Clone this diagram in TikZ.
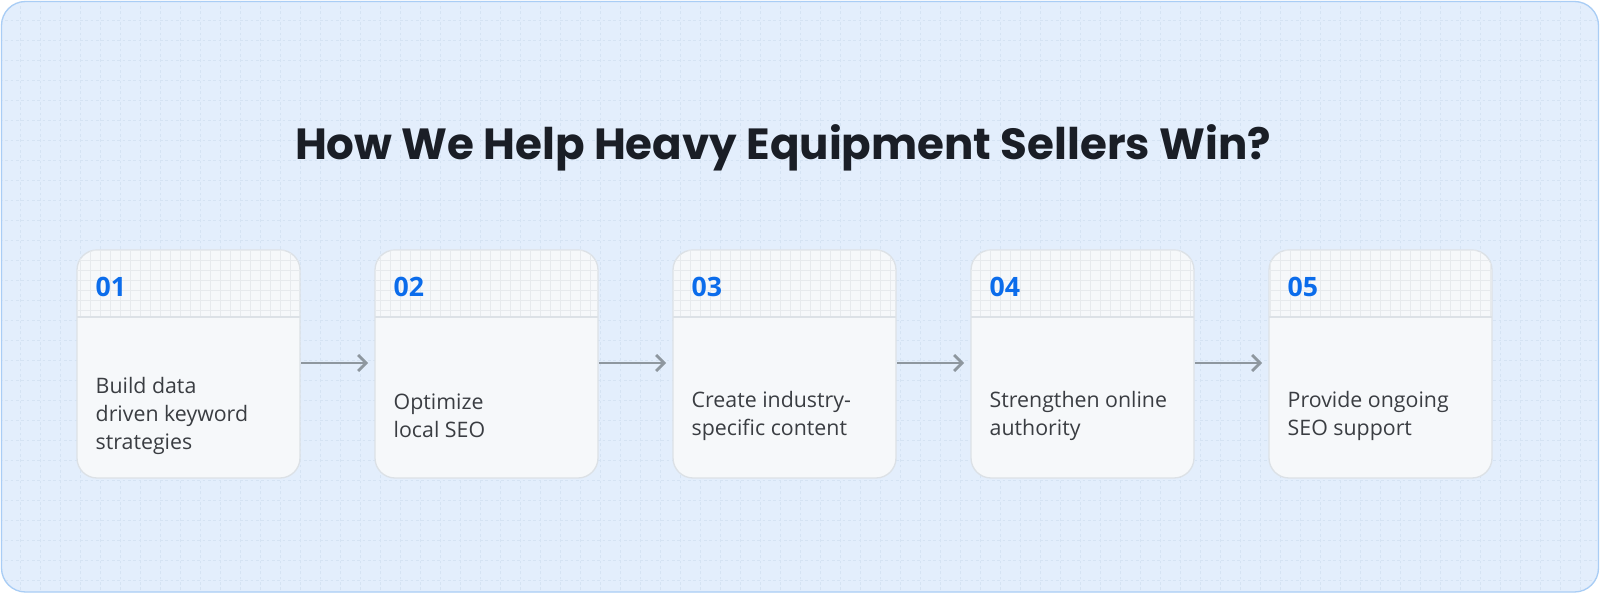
\documentclass[tikz,border=0pt]{standalone}
\usepackage{fontspec}
\usetikzlibrary{arrows.meta}
\setmainfont{Open Sans}
\newfontfamily\titlefont{Poppins}
\definecolor{bgc}{HTML}{E3EEFC}
\definecolor{frame}{HTML}{A9CDF5}
\definecolor{cardc}{HTML}{F6F8FA}
\definecolor{cardline}{HTML}{DCE1E6}
\definecolor{numc}{HTML}{0B6CEB}
\definecolor{txtc}{HTML}{3A3D42}
\definecolor{arrc}{HTML}{8E979F}
\definecolor{gridc}{HTML}{D5E3F3}
\definecolor{titlec}{HTML}{1A1E26}
\begin{document}
\begin{tikzpicture}[x=0.75pt,y=-0.75pt,
  card/.style={draw=cardline,line width=1pt,fill=cardc,rounded corners=15pt},
  num/.style={anchor=west,text=numc,font=\bfseries\fontsize{20}{22}\selectfont},
  lbl/.style={anchor=west,text=txtc,align=left,font=\fontsize{16}{21}\selectfont},
  conn/.style={draw=arrc,line width=2pt,-{Straight Barb[length=6pt,width=12pt]}}]
\useasboundingbox (0,0) rectangle (1600,606);
\fill[white] (0,0) rectangle (1600,606);
\draw[frame,fill=bgc,line width=1pt,rounded corners=18pt] (1.5,1.5) rectangle (1598.5,592);
\begin{scope}
\clip[rounded corners=18pt] (2,2) rectangle (1598,591);
\draw[gridc,line width=0.4pt,dash pattern=on 2pt off 2pt,step=15pt] (0,0) grid (1600,606);
\end{scope}
\node[text=titlec,font=\titlefont\bfseries\fontsize{32.7}{38}\selectfont] (title) at (783,148) {How We Help Heavy Equipment Sellers Win?};
\foreach \i/\x/\t in {1/77/{Build data\\driven keyword\\strategies},2/375/{Optimize\\local SEO},3/673/{Create industry-\\specific content},4/971/{Strengthen online\\authority},5/1269/{Provide ongoing\\SEO support}}{
  \draw[card] (\x,250) rectangle (\x+223,478);
  \begin{scope}
  \clip[rounded corners=15pt] (\x,250) rectangle (\x+223,330);
  \clip (\x,250) rectangle (\x+223,317);
  \draw[cardline!70,line width=0.3pt,step=7.5pt] (\x,250) grid (\x+223,317);
  \end{scope}
  \draw[cardline,line width=1.5pt] (\x,317) -- (\x+223,317);
  \coordinate (c\i) at (\x,250);
  \node[num] (n\i) at (\x+14,287) {0\i};
  \node[lbl] (l\i) at (\x+14,416) {\t};
}
\foreach \a/\b in {1/2,2/3,3/4,4/5}{
  \coordinate (s\a) at ([xshift=0.75pt*224,yshift=-0.75pt*113]c\a);
  \coordinate (e\a) at ([xshift=-0.75pt*7,yshift=-0.75pt*113]c\b);
  \draw[conn] (s\a) -- (e\a);
}
\end{tikzpicture}
\end{document}
